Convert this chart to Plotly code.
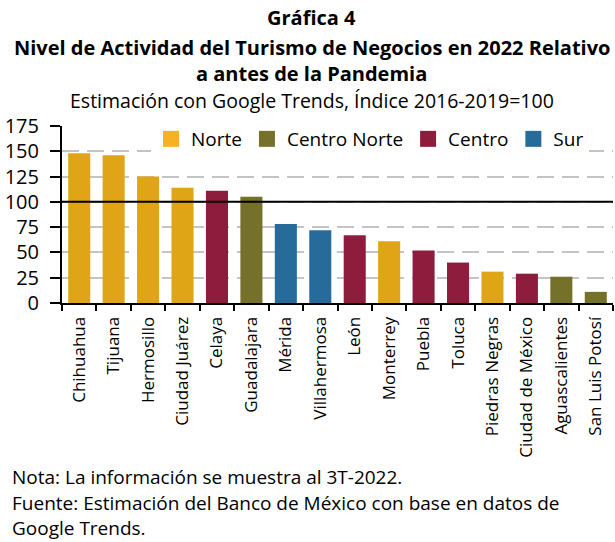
import plotly.graph_objects as go

cities = ["Chihuahua", "Tijuana", "Hermosillo", "Ciudad Juárez", "Celaya", "Guadalajara",
          "Mérida", "Villahermosa", "León", "Monterrey", "Puebla", "Toluca",
          "Piedras Negras", "Ciudad de México", "Aguascalientes", "San Luis Potosí"]
values = [148, 146, 125, 114, 111, 105, 78, 72, 67, 61, 52, 40, 31, 29, 26, 11]
regions = ["Norte", "Norte", "Norte", "Norte", "Centro", "Centro Norte",
           "Sur", "Sur", "Centro", "Norte", "Centro", "Centro",
           "Norte", "Centro", "Centro Norte", "Centro Norte"]
region_order = ["Norte", "Centro Norte", "Centro", "Sur"]
bar_colors = {"Norte": "#DFA516", "Centro Norte": "#75702A", "Centro": "#8E1C3C", "Sur": "#276B9A"}
legend_colors = {"Norte": "#F9B124", "Centro Norte": "#75702A", "Centro": "#8E1C3C", "Sur": "#276B9A"}
y_ticks = [0, 25, 50, 75, 100, 125, 150, 175]
ref_value = 100

FONT = "Open Sans"
W, H = 615, 542
L, R, T, B = 62, 2, 126, 239
PW, PH = W - L - R, H - T - B


def px_x(px):
    return (px - L) / PW


def px_y(py):
    return (H - B - py) / PH


fig = go.Figure()
for reg in region_order:
    xs = [c for c, r in zip(cities, regions) if r == reg]
    ys = [v for v, r in zip(values, regions) if r == reg]
    fig.add_trace(go.Bar(x=xs, y=ys, name=reg, marker_color=bar_colors[reg],
                         marker_line_width=0, showlegend=False))
for reg in region_order:
    fig.add_trace(go.Scatter(x=[None], y=[None], mode="markers", name=reg,
                             marker=dict(symbol="square", size=18, color=legend_colors[reg])))

fig.add_shape(type="line", xref="paper", yref="y", x0=0, x1=1, y0=ref_value, y1=ref_value,
              line=dict(color="black", width=2))

fig.update_layout(
    width=W, height=H,
    margin=dict(l=L, r=R, t=T, b=B),
    paper_bgcolor="white", plot_bgcolor="white",
    barmode="overlay", bargap=0.36,
    font=dict(family=FONT, color="black"),
    legend=dict(orientation="h", x=px_x(151), xanchor="left", y=px_y(139), yanchor="middle",
                bgcolor="white", font=dict(size=19, family=FONT), itemsizing="trace",
                tracegroupgap=0),
    xaxis=dict(categoryorder="array", categoryarray=cities, tickangle=-90,
               tickfont=dict(size=17, family=FONT), showline=True, linecolor="black", linewidth=2,
               ticks="outside", ticklen=6, tickcolor="black", tickwidth=1.5, tickson="boundaries",
               ticklabelstandoff=5,
               showgrid=False, range=[-0.5, len(cities) - 0.5]),
    yaxis=dict(range=[0, 175], tickvals=y_ticks, tickfont=dict(size=20, family=FONT),
               showline=True, linecolor="black", linewidth=2, ticks="outside", ticklen=10,
               tickcolor="black", tickwidth=1.5, showgrid=True, gridcolor="#C4C4C4",
               gridwidth=2, griddash="17px,8px", zeroline=False, ticklabelstandoff=7),
)

cx = px_x(W / 2 + 4)
titles = [
    ("<b>Gráfica 4</b>", 17, 20),
    ("<b>Nivel de Actividad del Turismo de Negocios en 2022 Relativo</b>", 47, 20),
    ("<b>a antes de la Pandemia</b>", 73, 20),
    ("Estimación con Google Trends, Índice 2016-2019=100", 100, 19.5),
]
for txt, py, sz in titles:
    fig.add_annotation(text=txt, xref="paper", yref="paper", x=cx, y=px_y(py),
                       xanchor="center", yanchor="middle", showarrow=False,
                       font=dict(size=sz, family=FONT))

notes = [
    ("Nota: La información se muestra al 3T-2022.", 477),
    ("Fuente: Estimación del Banco de México con base en datos de", 503),
    ("Google Trends.", 528),
]
for txt, py in notes:
    fig.add_annotation(text=txt, xref="paper", yref="paper", x=px_x(10), y=px_y(py),
                       xanchor="left", yanchor="middle", showarrow=False,
                       font=dict(size=19, family=FONT))

fig.write_html("out.html", config={"displayModeBar": False},
               post_script="document.body.style.margin='0';")
